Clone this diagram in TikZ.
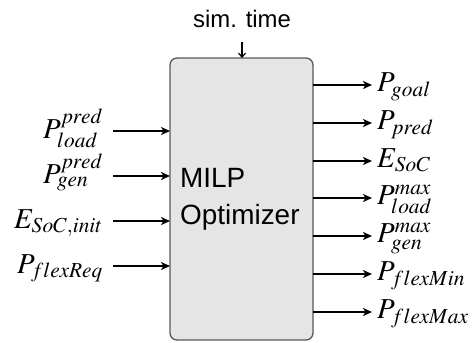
\documentclass[tikz,border=0pt]{standalone}
\usepackage{mathptmx}
\usepackage[no-math]{fontspec}
\setsansfont{Liberation Sans}
\usetikzlibrary{arrows.meta}

\tikzset{
  sig/.style={line width=1.6bp, -{Stealth[length=9bp,width=8bp,inset=2.5bp]}},
  inlbl/.style={anchor=base east, inner sep=0pt, font=\fontsize{29}{34}\selectfont},
  outlbl/.style={anchor=base west, inner sep=0pt, font=\fontsize{29}{34}\selectfont},
  blk/.style={draw=black!65, line width=1.3bp, fill=black!10, rounded corners=7bp},
  sanslbl/.style={inner sep=0pt, font=\sffamily\fontsize{28}{34}\selectfont}
}

\begin{document}
\begin{tikzpicture}[x=1bp, y=-1bp]
  \useasboundingbox (0,0) rectangle (472,342);

  % optimizer block
  \draw[blk] (170,58) rectangle (313,340);
  \node[sanslbl, anchor=base west] (milp) at (180,187) {MILP};
  \node[sanslbl, anchor=base west] (opt) at (180,224) {Optimizer};

  % simulation time input from above
  \node[inner sep=0pt, anchor=base, font=\sffamily\fontsize{24}{28}\selectfont] (sim) at (242,27) {sim. time};
  \coordinate (simtop) at (242,42);
  \coordinate (simin) at (242,58);
  \draw[line width=1.2bp, -{Straight Barb[length=4bp,width=7bp]}] (simtop) -- (simin);

  % inputs
  \foreach \y/\name/\txt in {
      131/iload/{$P^{pred}_{load}$},
      176/igen/{$P^{pred}_{gen}$},
      221/isoc/{$E_{SoC,init}$},
      266/iflex/{$P_{flexReq}$}} {
    \node[inlbl] (\name) at (103,\y+7) {\txt};
    \coordinate (\name-s) at (113,\y);
    \coordinate (\name-e) at (170,\y);
    \draw[sig] (\name-s) -- (\name-e);
  }

  % outputs
  \foreach \y/\name/\txt in {
      85/ogoal/{$P_{goal}$},
      123/opred/{$P_{pred}$},
      161/osoc/{$E_{SoC}$},
      198/oload/{$P^{max}_{load}$},
      236/ogen/{$P^{max}_{gen}$},
      274/omin/{$P_{flexMin}$},
      312/omax/{$P_{flexMax}$}} {
    \coordinate (\name-s) at (313,\y);
    \coordinate (\name-e) at (372,\y);
    \draw[sig] (\name-s) -- (\name-e);
    \node[outlbl] (\name) at (377,\y+6.5) {\txt};
  }
\end{tikzpicture}
\end{document}
